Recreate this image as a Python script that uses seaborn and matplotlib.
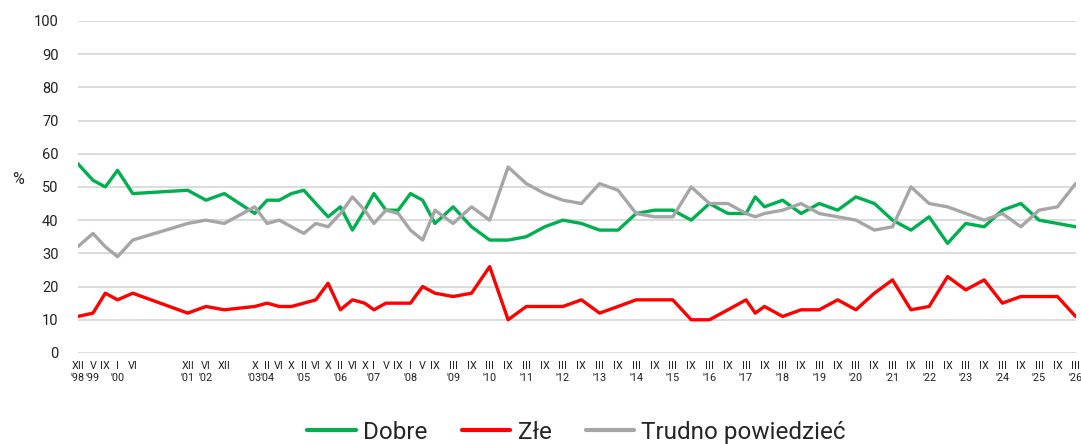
import seaborn as sns
import matplotlib.pyplot as plt
import pandas as pd

# terminy badań (rok-miesiąc)
dates = [
    "1998-12", "1999-05", "1999-09", "2000-01", "2000-06", "2001-12", "2002-06",
    "2002-12", "2003-10", "2004-02", "2004-06", "2004-10", "2005-02", "2005-06",
    "2005-10", "2006-02", "2006-06", "2006-10", "2007-01", "2007-05", "2007-09",
    "2008-01", "2008-05", "2008-09", "2009-03", "2009-09", "2010-03", "2010-09",
    "2011-03", "2011-09", "2012-03", "2012-09", "2013-03", "2013-09", "2014-03",
    "2014-09", "2015-03", "2015-09", "2016-03", "2016-09", "2017-03", "2017-06",
    "2017-09", "2018-03", "2018-09", "2019-03", "2019-09", "2020-03", "2020-09",
    "2021-03", "2021-09", "2022-03", "2022-09", "2023-03", "2023-09", "2024-03",
    "2024-09", "2025-03", "2025-09", "2026-03",
]
dobre = [57, 52, 50, 55, 48, 49, 46, 48, 42, 46, 46, 48, 49, 45, 41, 44, 37, 43, 48, 43,
         43, 48, 46, 39, 44, 38, 34, 34, 35, 38, 40, 39, 37, 37, 42, 43, 43, 40, 45, 42,
         42, 47, 44, 46, 42, 45, 43, 47, 45, 40, 37, 41, 33, 39, 38, 43, 45, 40, 39, 38]
zle = [11, 12, 18, 16, 18, 12, 14, 13, 14, 15, 14, 14, 15, 16, 21, 13, 16, 15, 13, 15,
       15, 15, 20, 18, 17, 18, 26, 10, 14, 14, 14, 16, 12, 14, 16, 16, 16, 10, 10, 13,
       16, 12, 14, 11, 13, 13, 16, 13, 18, 22, 13, 14, 23, 19, 22, 15, 17, 17, 17, 11]
trudno = [32, 36, 32, 29, 34, 39, 40, 39, 44, 39, 40, 38, 36, 39, 38, 42, 47, 43, 39, 43,
          42, 37, 34, 43, 39, 44, 40, 56, 51, 48, 46, 45, 51, 49, 42, 41, 41, 50, 45, 45,
          42, 41, 42, 43, 45, 42, 41, 40, 37, 38, 50, 45, 44, 42, 40, 42, 38, 43, 44, 51]
unlabeled = ["2017-06"]

series = ["Dobre", "Złe", "Trudno powiedzieć"]
colors = {"Dobre": "#00b050", "Złe": "#ff0000", "Trudno powiedzieć": "#a6a6a6"}
roman = {1: "I", 2: "II", 3: "III", 4: "IV", 5: "V", 6: "VI", 7: "VII", 8: "VIII",
         9: "IX", 10: "X", 11: "XI", 12: "XII"}

df = pd.DataFrame({"data": pd.to_datetime(dates), "Dobre": dobre, "Złe": zle,
                   "Trudno powiedzieć": trudno})
long = df.melt(id_vars="data", var_name="odp", value_name="proc")

sns.set_style("white")
plt.rcParams["font.family"] = ["Roboto", "DejaVu Sans"]

fig, ax = plt.subplots(figsize=(10.81, 4.44), dpi=100)
fig.subplots_adjust(left=0.072, right=0.995, top=0.953, bottom=0.205)

sns.lineplot(data=long, x="data", y="proc", hue="odp", hue_order=series,
             palette=colors, linewidth=2.4, ax=ax)

# etykiety osi X: miesiąc rzymski + rok przy pierwszym badaniu w roku
tick_dates = [d for d in pd.to_datetime(dates) if d.strftime("%Y-%m") not in unlabeled]
tick_labels = []
seen = set()
for d in tick_dates:
    lab = roman[d.month]
    if d.year not in seen:
        lab += "\n'" + str(d.year)[2:]
        seen.add(d.year)
    tick_labels.append(lab)

ax.set_xticks(tick_dates)
ax.set_xticklabels(tick_labels, fontsize=7.8, color="#222222", linespacing=1.25)
ax.set_xlim(df["data"].iloc[0], df["data"].iloc[-1])
ax.tick_params(axis="x", length=0, pad=6)

ax.set_ylim(0, 100)
ax.set_yticks(range(0, 101, 10))
ax.tick_params(axis="y", length=0, labelsize=10.5, labelcolor="#222222", pad=14)
ax.yaxis.grid(True, color="#d9d9d9", linewidth=1.3)
ax.xaxis.grid(False)
for s in ax.spines.values():
    s.set_visible(False)

ax.set_xlabel("")
ax.set_ylabel("%", rotation=0, fontsize=11.5, color="#222222")
ax.yaxis.set_label_coords(-0.06, 0.5)

handles, labels = ax.get_legend_handles_labels()
leg = ax.legend(handles, labels, loc="center", bbox_to_anchor=(0.5, -0.238), ncol=3,
                frameon=False, fontsize=17.5, handlelength=2.0, handletextpad=0.3,
                columnspacing=1.4)
for h in leg.get_lines():
    h.set_linewidth(3)

fig.savefig("out.png", dpi=100)
